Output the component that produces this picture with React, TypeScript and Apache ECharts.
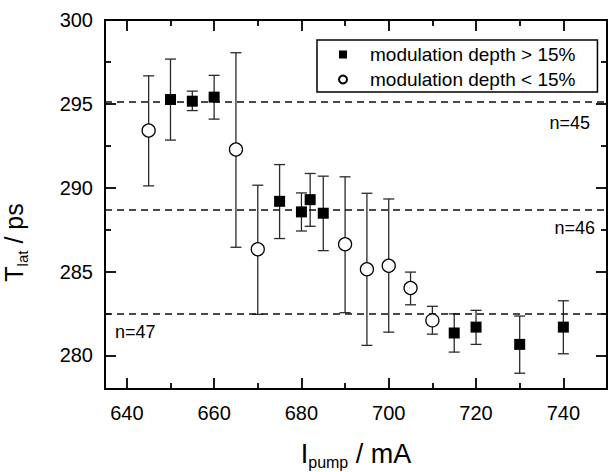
import React, { useEffect, useRef } from "react";
import * as echarts from "echarts";

// x: pump current (mA), y: latency (ps), with error-bar limits
const squareX = [650, 655, 660, 675, 680, 682, 685, 715, 720, 730, 740];
const squareY = [295.26, 295.16, 295.4, 289.19, 288.56, 289.29, 288.48, 281.34, 281.69, 280.66, 281.69];
const squareLow = [292.84, 294.6, 294.09, 286.97, 287.42, 287.7, 286.25, 280.2, 280.66, 278.94, 280.1];
const squareHigh = [297.67, 295.76, 296.7, 291.38, 289.69, 290.85, 290.69, 282.48, 282.69, 282.35, 283.26];

const circleX = [645, 665, 670, 690, 695, 700, 705, 710];
const circleY = [293.41, 292.28, 286.33, 286.63, 285.14, 285.35, 284.02, 282.09];
const circleLow = [290.11, 286.45, 282.45, 282.55, 280.6, 281.39, 283.02, 281.27];
const circleHigh = [296.67, 298.05, 290.15, 290.65, 289.67, 289.33, 284.97, 282.93];

const levels = [295.1, 288.7, 282.5];
const levelLabels = ["n=45", "n=46", "n=47"];

const xMajor = [640, 660, 680, 700, 720, 740];
const xMinor = [650, 670, 690, 710, 730];
const yMajor = [280, 285, 290, 295, 300];
const yMinor = [282.5, 287.5, 292.5, 297.5];

const FONT = "'Liberation Sans', Arial, Helvetica, sans-serif";

export default function App() {
  const ref = useRef<HTMLDivElement>(null);
  useEffect(() => {
    if (!ref.current) return;
    const chart = echarts.init(ref.current, undefined, { renderer: "svg" });

    const axisLine = { show: true, onZero: false, lineStyle: { color: "#000", width: 2 } };
    const mk = (kind: "x" | "y", position: string, major: boolean, labels: boolean, extra: any = {}) => {
      const base: any = {
        type: "value",
        position,
        min: kind === "x" ? 635 : 278,
        max: kind === "x" ? 750 : 300,
        axisLine,
        splitLine: { show: false },
        minorTick: { show: false },
        axisTick: {
          show: true,
          inside: true,
          length: major ? 11 : 6,
          lineStyle: { color: "#000", width: 1.8 },
          customValues: kind === "x" ? (major ? xMajor : xMinor) : major ? yMajor : yMinor,
        },
        axisLabel: labels
          ? {
              show: true,
              customValues: kind === "x" ? xMajor : yMajor,
              color: "#000",
              fontSize: 20,
              fontFamily: FONT,
              margin: kind === "x" ? 14 : 12,
            }
          : { show: false },
      };
      return { ...base, ...extra };
    };

    const errData = (xs: number[], lo: number[], hi: number[]) => xs.map((x, i) => [x, lo[i], hi[i]]);
    const errSeries = (name: string, data: number[][]) => ({
      type: "custom",
      name,
      xAxisIndex: 0,
      yAxisIndex: 0,
      z: 2,
      silent: true,
      encode: { x: 0, y: [1, 2] },
      data,
      renderItem: (params: any, api: any) => {
        const x = api.value(0);
        const pLo = api.coord([x, api.value(1)]);
        const pHi = api.coord([x, api.value(2)]);
        const w = 5.5;
        const style = { stroke: "#2a2a2a", lineWidth: 1.3 };
        return {
          type: "group",
          children: [
            { type: "line", shape: { x1: pLo[0], y1: pLo[1], x2: pHi[0], y2: pHi[1] }, style },
            { type: "line", shape: { x1: pLo[0] - w, y1: pLo[1], x2: pLo[0] + w, y2: pLo[1] }, style },
            { type: "line", shape: { x1: pHi[0] - w, y1: pHi[1], x2: pHi[0] + w, y2: pHi[1] }, style },
          ],
        };
      },
    });

    const labelPos = ["insideEndBottom", "insideEndBottom", "insideStartBottom"];
    const labelDist = [[17, 12], [12, 9], [10, 9]];

    chart.setOption({
      animation: false,
      backgroundColor: "#fff",
      textStyle: { fontFamily: FONT },
      grid: { left: 105, right: 1, top: 20, bottom: 83, containLabel: false, outerBoundsMode: "none" },
      xAxis: [
        mk("x", "bottom", true, true, {
          name: "{a|I}{b|pump}{a| / mA}",
          nameLocation: "middle",
          nameGap: 48,
          nameTextStyle: {
            rich: {
              a: { fontSize: 27, color: "#000", fontFamily: FONT, lineHeight: 33 },
              b: { fontSize: 16, color: "#000", fontFamily: FONT, verticalAlign: "bottom", lineHeight: 15 },
            },
          },
        }),
        mk("x", "bottom", false, false),
        mk("x", "top", true, false),
        mk("x", "top", false, false),
      ],
      yAxis: [
        mk("y", "left", true, true, {
          name: "{a|T}{b|lat}{a| / ps}",
          nameLocation: "middle",
          nameGap: 75,
          nameTextStyle: {
            padding: [0, 76, 0, 0],
            rich: {
              a: { fontSize: 25, color: "#000", fontFamily: FONT, lineHeight: 32 },
              b: { fontSize: 15, color: "#000", fontFamily: FONT, verticalAlign: "bottom", lineHeight: 15 },
            },
          },
        }),
        mk("y", "left", false, false),
        mk("y", "right", true, false),
        mk("y", "right", false, false),
      ],
      legend: {
        show: true,
        data: ["modulation depth > 15%", "modulation depth < 15%"],
        orient: "vertical",
        left: 317,
        top: 40,
        itemWidth: 8,
        itemHeight: 8,
        itemGap: 6,
        padding: [5, 22, 3, 21],
        borderColor: "#000",
        borderWidth: 1.5,
        backgroundColor: "#fff",
        textStyle: { fontSize: 19, color: "#000", fontFamily: FONT, padding: [0, 0, 0, 18] },
      },
      series: [
        errSeries("errSquares", errData(squareX, squareLow, squareHigh)),
        errSeries("errCircles", errData(circleX, circleLow, circleHigh)),
        {
          type: "scatter",
          name: "modulation depth > 15%",
          symbol: "rect",
          symbolSize: 11,
          z: 5,
          itemStyle: { color: "#000", opacity: 1 },
          data: squareX.map((x, i) => [x, squareY[i]]),
          markLine: {
            silent: true,
            symbol: "none",
            animation: false,
            lineStyle: { color: "#111", width: 1.7, type: [7, 5] },
            data: levels.map((v, i) => ({
              yAxis: v,
              label: {
                show: true,
                formatter: levelLabels[i],
                position: labelPos[i],
                distance: labelDist[i],
                color: "#000",
                fontSize: 18,
                fontFamily: FONT,
              },
            })),
          },
        },
        {
          type: "scatter",
          name: "modulation depth < 15%",
          symbol: "circle",
          symbolSize: 13,
          z: 5,
          itemStyle: { color: "#fff", borderColor: "#000", borderWidth: 1.3, opacity: 1 },
          data: circleX.map((x, i) => [x, circleY[i]]),
        },
      ],
    });
    return () => chart.dispose();
  }, []);
  return (
    <div
      ref={ref}
      style={{ position: "fixed", left: 0, top: 0, width: 608, height: 472, background: "#fff" }}
    />
  );
}
